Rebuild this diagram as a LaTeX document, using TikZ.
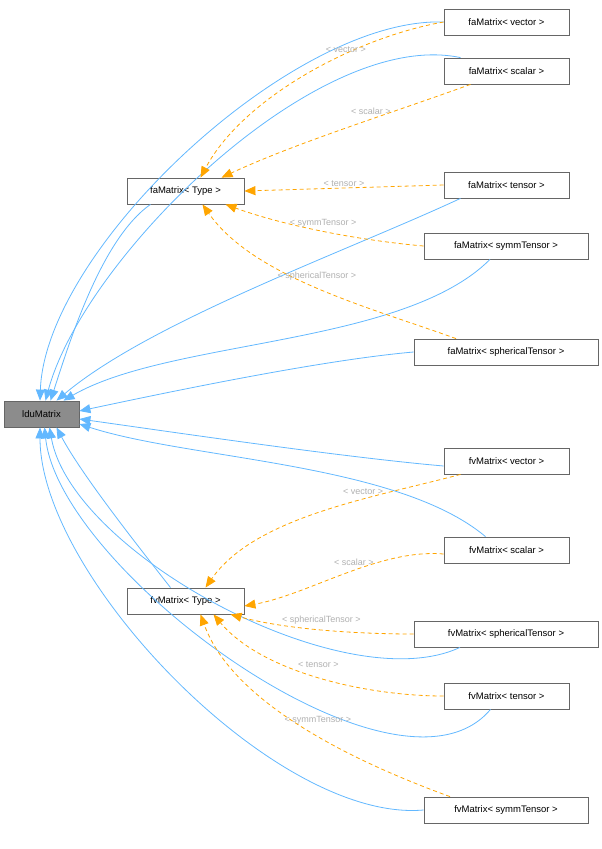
\documentclass[tikz,border=0pt]{standalone}
\usepackage{fontspec}
\setmainfont{Liberation Sans}
\usetikzlibrary{arrows.meta}

\definecolor{inhblue}{HTML}{63B8FF}
\definecolor{tmplorange}{HTML}{FFA500}
\definecolor{lblgray}{HTML}{B0B0B0}

\begin{document}
\begin{tikzpicture}[
    x=1pt, y=-1pt,
    cls/.style={rectangle, draw=black!60, line width=0.8pt, fill=white, align=center, minimum height=26pt, inner sep=2pt, font=\fontsize{9.5}{11}\selectfont},
    inh/.style={draw=inhblue, line width=0.8pt, looseness=0.7, -{Triangle[length=11pt,width=9pt]}},
    tmpl/.style={draw=tmplorange, line width=0.8pt, dash pattern=on 4pt off 3pt, looseness=0.8, -{Triangle[length=11pt,width=9pt]}},
    lbl/.style={text=lblgray, font=\fontsize{9}{10}\selectfont, inner sep=1pt}
]
    \useasboundingbox (0,0) rectangle (602,849);

    \node[cls, fill=black!45, minimum width=75pt] (ldu) at (41.5,414) {lduMatrix};
    \node[cls, minimum width=117pt] (faT) at (185.5,191) {faMatrix< Type >};
    \node[cls, minimum width=117pt] (fvT) at (185.5,601) {fvMatrix< Type >};

    \node[cls, minimum width=125pt] (faVec) at (506.5,22) {faMatrix< vector >};
    \node[cls, minimum width=125pt] (faSca) at (506.5,71) {faMatrix< scalar >};
    \node[cls, minimum width=125pt] (faTen) at (506.5,185) {faMatrix< tensor >};
    \node[cls, minimum width=164pt] (faSym) at (506,246) {faMatrix< symmTensor >};
    \node[cls, minimum width=184pt] (faSph) at (506,352) {faMatrix< sphericalTensor >};
    \node[cls, minimum width=125pt] (fvVec) at (506.5,461) {fvMatrix< vector >};
    \node[cls, minimum width=125pt] (fvSca) at (506.5,550) {fvMatrix< scalar >};
    \node[cls, minimum width=184pt] (fvSph) at (506,634) {fvMatrix< sphericalTensor >};
    \node[cls, minimum width=125pt] (fvTen) at (506.5,696) {fvMatrix< tensor >};
    \node[cls, minimum width=164pt] (fvSym) at (506,810) {fvMatrix< symmTensor >};

    % inheritance from lduMatrix
    \draw[inh] (faVec.west) to[out=178,in=88] ([xshift=-1.5]ldu.north);
    \draw[inh] ([xshift=-46]faSca.north) to[out=168,in=75] ([xshift=4]ldu.north);
    \draw[inh] ([xshift=-35]faT.south) to[out=215,in=72] ([xshift=9]ldu.north);
    \draw[inh] ([xshift=-46]faTen.south) to[out=205,in=40] ([xshift=15]ldu.north);
    \draw[inh] ([xshift=-16]faSym.south) to[out=225,in=30] ([xshift=22]ldu.north);
    \draw[inh] (faSph.west) to[out=185,in=12] ([yshift=3]ldu.east);
    \draw[inh] ([yshift=-5]fvVec.west) to[out=175,in=-8] ([yshift=-5]ldu.east);
    \draw[inh] ([xshift=-21]fvSca.north) to[out=140,in=-18] ([yshift=-10]ldu.east);
    \draw[inh] ([xshift=-15]fvT.north) to[out=128,in=-62] ([xshift=15]ldu.south);
    \draw[inh] ([xshift=-46]fvSph.south) to[out=205,in=-80] ([xshift=8]ldu.south);
    \draw[inh] ([xshift=-16]fvTen.south) to[out=230,in=-84] ([xshift=3]ldu.south);
    \draw[inh] (fvSym.west) to[out=185,in=-90] ([xshift=-1.5]ldu.south);

    % template instances of faMatrix
    \draw[tmpl] (faVec.west) to[out=190,in=62] node[lbl, pos=0.35, above] {< vector >} ([xshift=15]faT.north);
    \draw[tmpl] ([xshift=-36]faSca.south) to[out=200,in=25] node[lbl, pos=0.4, above=3pt] {< scalar >} ([xshift=36]faT.north);
    \draw[tmpl] (faTen.west) -- node[lbl, above] {< tensor >} (faT.east);
    \draw[tmpl] (faSym.west) to[out=175,in=-20] node[lbl, pos=0.5, above=2pt] {< symmTensor >} ([xshift=40]faT.south);
    \draw[tmpl] ([xshift=-50]faSph.north) to[out=160,in=-55] node[lbl, pos=0.5, above=6pt] {< sphericalTensor >} ([xshift=17]faT.south);

    % template instances of fvMatrix
    \draw[tmpl] ([xshift=-46]fvVec.south) to[out=195,in=55] node[lbl, pos=0.35, above=3pt] {< vector >} ([xshift=20]fvT.north);
    \draw[tmpl] ([yshift=-4]fvSca.west) to[out=175,in=10] node[lbl, pos=0.45, above=3pt] {< scalar >} ([yshift=-5]fvT.east);
    \draw[tmpl] (fvSph.west) to[out=180,in=-15] node[lbl, pos=0.5, above=4pt] {< sphericalTensor >} ([xshift=45]fvT.south);
    \draw[tmpl] (fvTen.west) to[out=180,in=-50] node[lbl, pos=0.5, above=8pt] {< tensor >} ([xshift=28]fvT.south);
    \draw[tmpl] ([xshift=-56]fvSym.north) to[out=160,in=-70] node[lbl, pos=0.45, above=10pt] {< symmTensor >} ([xshift=15]fvT.south);
\end{tikzpicture}
\end{document}
